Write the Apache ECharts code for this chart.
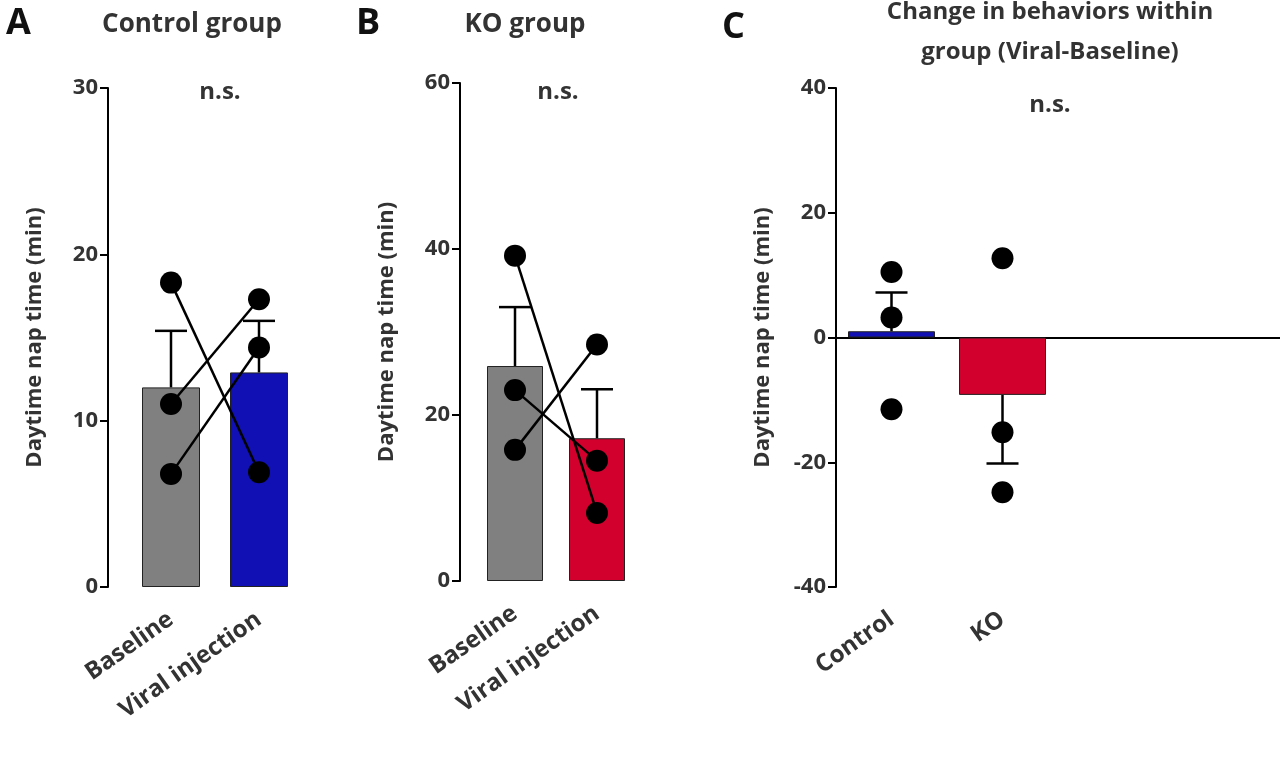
<!DOCTYPE html>
<html>
<head>
<meta charset="utf-8">
<script src="https://cdn.jsdelivr.net/npm/echarts@6/dist/echarts.min.js"></script>
<style>html,body{margin:0;padding:0;background:#fff}#chart{width:1280px;height:767px}</style>
</head>
<body>
<div id="chart"></div>
<script>
// panel A / B categories
var groupCats = ['Baseline', 'Viral injection'];
var changeCats = ['Control', 'KO', '', ''];

// panel A: control group
var ctrlMean = [12.0, 12.9];
var ctrlErr = [15.4, 16.0];
var ctrlSubjects = [[18.3, 6.9], [11.0, 17.3], [6.8, 14.4]];

// panel B: KO group
var koMean = [25.9, 17.2];
var koErr = [33.0, 23.1];
var koSubjects = [[39.2, 8.2], [23.0, 14.5], [15.8, 28.5]];

// panel C: change (viral - baseline)
var changeMean = [1.0, -9.2];
var changeErr = [7.2, -20.2];
var changeCtrlPts = [10.5, 3.2, -11.5];
var changeKoPts = [12.7, -15.2, -24.8];

var txt = '#333';
var font = 'Open Sans';
var colGray = '#808080', colBlue = '#1010b4', colRed = '#d2002c';

function errSeries(xi, means, ends) {
  return {
    type: 'custom', xAxisIndex: xi, yAxisIndex: xi, z: 3,
    data: means.map(function (m, i) { return [i, m, ends[i]]; }),
    renderItem: function (params, api) {
      var idx = api.value(0);
      var base = api.coord([idx, api.value(1)]);
      var top = api.coord([idx, api.value(2)]);
      var st = { stroke: '#000', lineWidth: 2.5 };
      return { type: 'group', children: [
        { type: 'line', shape: { x1: top[0], y1: base[1], x2: top[0], y2: top[1] }, style: st },
        { type: 'line', shape: { x1: top[0] - 16, y1: top[1], x2: top[0] + 16, y2: top[1] }, style: st }
      ] };
    }
  };
}

function barSeries(xi, means, colors, w) {
  return {
    type: 'bar', xAxisIndex: xi, yAxisIndex: xi, barWidth: w, z: 2,
    data: means.map(function (v, i) {
      return { value: v, itemStyle: { color: colors[i], borderColor: '#222', borderWidth: 1 } };
    })
  };
}

function subjectSeries(xi, subjects) {
  var out = [];
  subjects.forEach(function (s) {
    out.push({ type: 'line', xAxisIndex: xi, yAxisIndex: xi, data: s, symbol: 'circle', symbolSize: 22,
      itemStyle: { color: '#000', opacity: 1 }, lineStyle: { color: '#000', width: 2.5 }, z: 4 });
  });
  return out;
}

function yAx(gi, min, max, interval, offset) {
  return {
    type: 'value', gridIndex: gi, min: min, max: max, interval: interval, offset: offset,
    name: 'Daytime nap time (min)', nameLocation: 'middle', nameGap: 62,
    nameTextStyle: { fontFamily: font, fontWeight: 'bold', fontSize: 22, color: txt },
    axisLine: { show: true, lineStyle: { color: '#000', width: 2 } },
    axisTick: { show: true, length: 8, lineStyle: { color: '#000', width: 2 } },
    axisLabel: { fontFamily: font, fontWeight: 'bold', fontSize: 22, color: txt, margin: 10 },
    splitLine: { show: false }
  };
}

var labelStyle = { fontFamily: font, fontWeight: 'bold', fontSize: 24, color: txt, rotate: 35, margin: 30, interval: 0 };

var option = {
  animation: false,
  grid: [
    { left: 127, width: 176, top: 88, height: 499 },
    { left: 474, width: 164, top: 83, height: 498 },
    { left: 836, width: 444, top: 88, height: 499 }
  ],
  xAxis: [
    { type: 'category', gridIndex: 0, data: groupCats, axisLine: { show: false }, axisTick: { show: false }, axisLabel: labelStyle },
    { type: 'category', gridIndex: 1, data: groupCats, axisLine: { show: false }, axisTick: { show: false }, axisLabel: labelStyle },
    { type: 'category', gridIndex: 2, data: changeCats, axisLine: { show: true, onZero: true, lineStyle: { color: '#000', width: 2 } },
      axisTick: { show: false }, axisLabel: { show: false } },
    { type: 'category', gridIndex: 2, data: changeCats, position: 'bottom', axisLine: { show: false, onZero: false },
      axisTick: { show: false }, axisLabel: labelStyle }
  ],
  yAxis: [
    yAx(0, 0, 30, 10, 19),
    yAx(1, 0, 60, 20, 14),
    yAx(2, -40, 40, 20, 0),
    Object.assign(yAx(2, -40, 40, 20, 0), { show: false })
  ],
  series: [].concat(
    [barSeries(0, ctrlMean, [colGray, colBlue], 58), errSeries(0, ctrlMean, ctrlErr)],
    subjectSeries(0, ctrlSubjects),
    [barSeries(1, koMean, [colGray, colRed], 56), errSeries(1, koMean, koErr)],
    subjectSeries(1, koSubjects),
    [barSeries(2, changeMean.concat([null, null]), [colBlue, colRed], 87), errSeries(2, changeMean, changeErr),
     { type: 'scatter', xAxisIndex: 2, yAxisIndex: 2, symbolSize: 22, itemStyle: { color: '#000', opacity: 1 }, z: 4,
       data: changeCtrlPts.map(function (v) { return [0, v]; }).concat(changeKoPts.map(function (v) { return [1, v]; })) }]
  ),
  graphic: [
    { type: 'text', x: 6, y: 6, style: { text: 'A', font: 'bold 36px ' + font, fill: '#111' } },
    { type: 'text', x: 192, y: 12, style: { text: 'Control group', font: 'bold 26px ' + font, fill: txt, align: 'center' } },
    { type: 'text', x: 220, y: 80, style: { text: 'n.s.', font: 'bold 24px ' + font, fill: txt, align: 'center' } },
    { type: 'text', x: 356, y: 6, style: { text: 'B', font: 'bold 36px ' + font, fill: '#111' } },
    { type: 'text', x: 525, y: 12, style: { text: 'KO group', font: 'bold 26px ' + font, fill: txt, align: 'center' } },
    { type: 'text', x: 558, y: 80, style: { text: 'n.s.', font: 'bold 24px ' + font, fill: txt, align: 'center' } },
    { type: 'text', x: 722, y: 10, style: { text: 'C', font: 'bold 36px ' + font, fill: '#111' } },
    { type: 'text', x: 1050, y: 0, style: { text: 'Change in behaviors within', font: 'bold 24px ' + font, fill: txt, align: 'center' } },
    { type: 'text', x: 1050, y: 40, style: { text: 'group (Viral-Baseline)', font: 'bold 24px ' + font, fill: txt, align: 'center' } },
    { type: 'text', x: 1050, y: 93, style: { text: 'n.s.', font: 'bold 24px ' + font, fill: txt, align: 'center' } }
  ]
};
echarts.init(document.getElementById('chart')).setOption(option);
</script>
</body>
</html>
